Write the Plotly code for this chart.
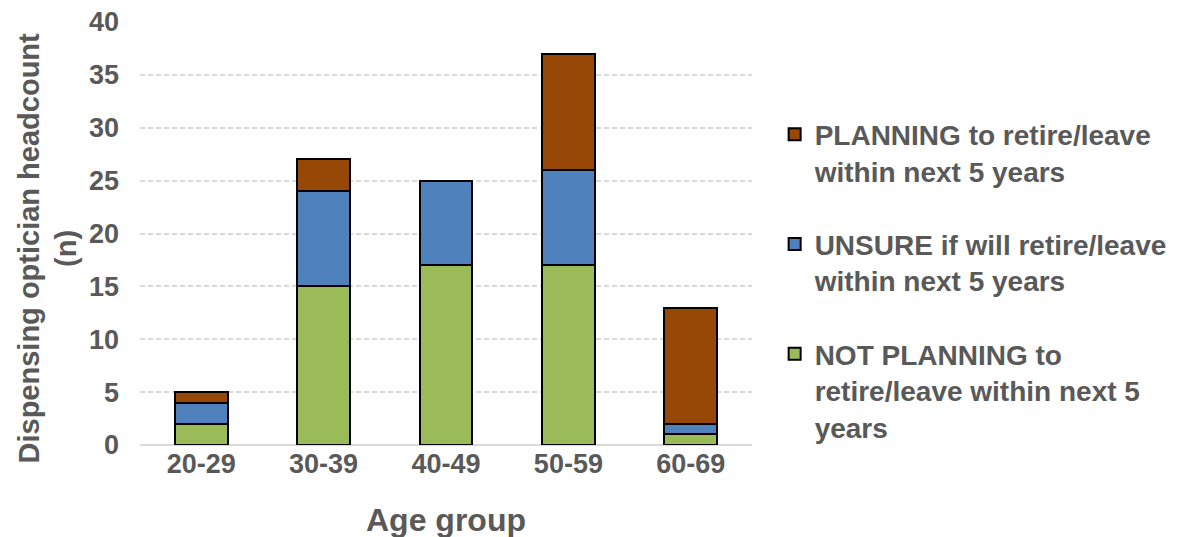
import plotly.graph_objects as go

age_groups = ["20-29", "30-39", "40-49", "50-59", "60-69"]
not_planning = [2, 15, 17, 17, 1]
unsure = [2, 9, 8, 9, 1]
planning = [1, 3, 0, 11, 11]

# (legend label, values, colour, legend rank) in stacking order, bottom to top
series = [
    ("NOT PLANNING to<br>retire/leave within next 5<br>years", not_planning, "#9BBB59", 3),
    ("UNSURE if will retire/leave<br>within next 5 years", unsure, "#4F81BD", 2),
    ("PLANNING to retire/leave<br>within next 5 years", planning, "#974706", 1),
]

fig = go.Figure()
for i, (name, vals, color, rank) in enumerate(series):
    fig.add_trace(go.Bar(
        x=age_groups, y=vals, name=f"<b>{name}</b>",
        marker=dict(color=color, line=dict(color="black", width=2)),
        legendgroup=f"g{i}", legendrank=rank,
    ))

font_color = "#595959"
fig.update_layout(
    barmode="stack",
    bargap=0.57,
    width=1185, height=537,
    margin=dict(l=140, r=430, t=22, b=92),
    plot_bgcolor="white", paper_bgcolor="white",
    font=dict(family="Liberation Sans, Arial", color=font_color, size=27),
    legend=dict(
        x=1.037, y=0.793, xanchor="left", yanchor="top",
        traceorder="grouped",
        tracegroupgap=34,
        valign="top",
        font=dict(size=28, color=font_color, family="Liberation Sans, Arial"),
        itemwidth=30,
    ),
    xaxis=dict(
        tickfont=dict(size=27, color=font_color),
        showline=False,
        tickprefix="<b>", ticksuffix="</b>",
        automargin=False,
    ),
    yaxis=dict(
        range=[0, 40], dtick=5,
        tickprefix="<b>", ticksuffix="</b>",
        tickfont=dict(size=27, color=font_color),
        showgrid=True, gridcolor="#d9d9d9", griddash="5px,3px", gridwidth=1.5,
        zeroline=True, zerolinecolor="#d9d9d9", zerolinewidth=2,
        ticklabelstandoff=20,
        automargin=False,
    ),
    annotations=[
        dict(text="<b>Age group</b>", xref="paper", yref="paper",
             x=0.5, y=-0.177, xanchor="center", yanchor="middle",
             showarrow=False, font=dict(size=32, color=font_color)),
        dict(text="<b>Dispensing optician headcount<br>(n)</b>", xref="paper", yref="paper",
             x=-0.151, y=0.466, xanchor="center", yanchor="middle", textangle=-90,
             showarrow=False, font=dict(size=29, color=font_color)),
    ],
)

fig.write_html("out.html")
